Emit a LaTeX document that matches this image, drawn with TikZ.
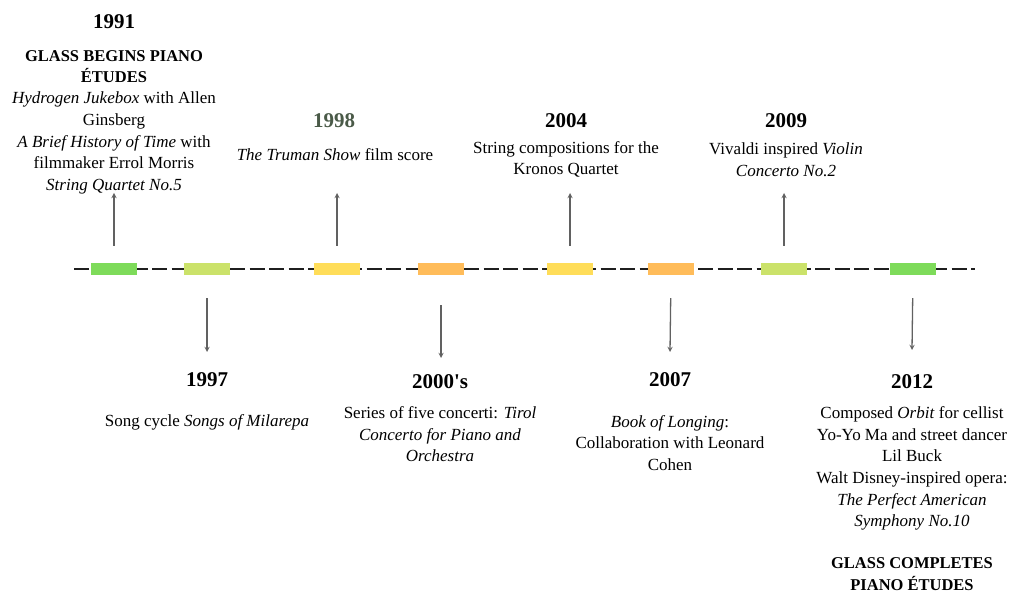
\documentclass[tikz,border=0pt]{standalone}
\usepackage{fontspec}
\setmainfont{Liberation Serif}
\usetikzlibrary{
  positioning,
  arrows
}
\definecolor{evgreen}{HTML}{7EDB5A}
\definecolor{evlime}{HTML}{CBE26A}
\definecolor{evyellow}{HTML}{FFDD59}
\definecolor{evorange}{HTML}{FFBC5A}
\definecolor{yrgray}{HTML}{4A5A48}

\begin{document}
\begin{tikzpicture}[
    x=1pt, y=-1pt,>=stealth,
    evbox/.style={
      minimum width=46pt,
      minimum height=12pt,
      inner sep=0pt
    },
    year/.style={
      font=\fontsize{21}{24}\selectfont\bfseries,
      inner sep=0pt
    },
    head/.style={
      font=\fontsize{16.5}{21.5}\selectfont\bfseries,
      align=center,
      inner sep=0pt
    },
    desc/.style={
      font=\fontsize{17}{21.6}\selectfont,
      align=center,
      inner sep=0pt
    },
    tick/.style={
      draw=black!62,
      line width=1.3pt
    }
  ]

  \useasboundingbox (0,0) rectangle (1018,593);

  % Timeline
  \coordinate (start) at (74,269);
  \coordinate (end) at (975,269);
  \draw[line width=2.8pt, black!88, dash pattern=on 15pt off 4.5pt] (start) -- (end);

  % Boxes
  \node[evbox, fill=evgreen] (b1) at (114,269) {};
  \node[evbox, fill=evlime] (b2) at (207,269) {};
  \node[evbox, fill=evyellow] (b3) at (337,269) {};
  \node[evbox, fill=evorange] (b4) at (441,269) {};
  \node[evbox, fill=evyellow] (b5) at (570,269) {};
  \node[evbox, fill=evorange] (b6) at (671,269) {};
  \node[evbox, fill=evlime] (b7) at (784,269) {};
  \node[evbox, fill=evgreen] (b8) at (913,269) {};

  % Up
  \node[year] (y1) at (114,22) {1991};
  \node[head] (h1) at (114,66.5) {GLASS BEGINS PIANO\\ÉTUDES};
  \node[desc] (d1) at (114,143) {\textit{Hydrogen Jukebox} with Allen\\Ginsberg\\\textit{A Brief History of Time} with\\filmmaker Errol Morris\\\textit{String Quartet No.5}};

  \node[year, text=yrgray] (y3) at (334,121) {1998};
  \node[desc] (d3) at (335,155) {\textit{The Truman Show} film score};

  \node[year] (y5) at (566,121) {2004};
  \node[desc] (d5) at (566,159.5) {String compositions for the\\Kronos Quartet};

  \node[year] (y7) at (786,121) {2009};
  \node[desc] (d7) at (786,159.5) {Vivaldi inspired \textit{Violin}\\\textit{Concerto No.2}};

  % Down
  \node[year] (y2) at (207,380) {1997};
  \node[desc] (d2) at (207,422) {Song cycle \textit{Songs of Milarepa}};

  \node[year] (y4) at (440,382) {2000\textquotesingle s};
  \node[desc] (d4) at (440,434.5) {Series of five concerti: \textit{Tirol}\\\textit{Concerto for Piano and}\\\textit{Orchestra}};

  \node[year] (y6) at (670,380) {2007};
  \node[desc] (d6) at (670,443) {\textit{Book of Longing}:\\Collaboration with Leonard\\Cohen};

  \node[year] (y8) at (912,382) {2012};
  \node[desc] (d8) at (912,468.5) {Composed \textit{Orbit} for cellist\\Yo-Yo Ma and street dancer\\Lil Buck\\Walt Disney-inspired opera:\\\textit{The Perfect American}\\\textit{Symphony No.10}};
  \node[head] (h8) at (912,574) {GLASS COMPLETES\\PIANO ÉTUDES};

  % Arrows
  \coordinate (e1) at (114,193);
  \coordinate (e3) at (337,193);
  \coordinate (e5) at (570,193);
  \coordinate (e7) at (784,193);
  \coordinate (e2) at (207,352);
  \coordinate (e4) at (441,358);
  \coordinate (e6) at (670,352);
  \coordinate (e8) at (912,350);
  \foreach \i in {1,3,5,7}
    \draw[tick, ->, shorten <=17pt] (b\i.north) -- (e\i);
  \draw[tick, ->, shorten <=23pt] (b2.south) -- (e2);
  \draw[tick, ->, shorten <=30pt] (b4.south) -- (e4);
  \draw[tick, ->, shorten <=23pt] (b6.south) -- (e6);
  \draw[tick, ->, shorten <=23pt] (b8.south) -- (e8);

\end{tikzpicture}
\end{document}
